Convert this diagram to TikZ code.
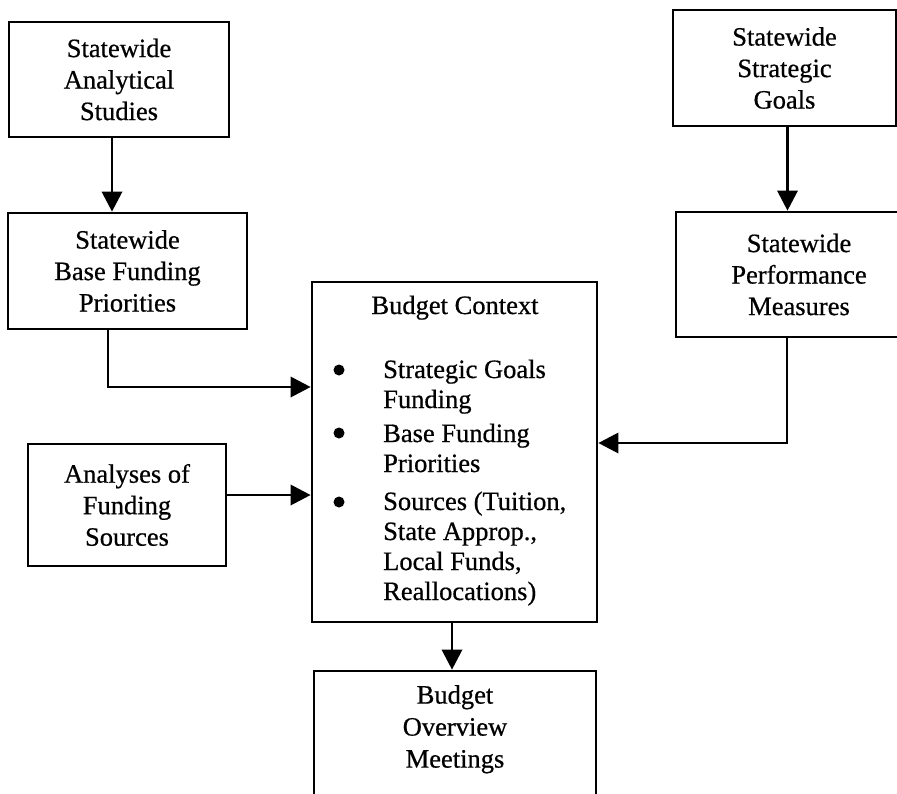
\documentclass[tikz,border=0pt]{standalone}
\usepackage{fontspec}
\setmainfont{Liberation Serif}[FakeBold=0.6]
\usetikzlibrary{arrows.meta,calc}

\newcommand{\lbl}{\fontsize{26.5}{31.5}\selectfont}

\tikzset{
  boxnode/.style={draw, line width=2.9pt, align=center, inner sep=0pt, font=\lbl},
  txt/.style={inner sep=0pt, font=\lbl},
  arr/.style={line width=2.8pt, -{Triangle[length=20pt,width=21pt,line width=0pt]}},
  dot/.style={fill=black},
}

\begin{document}
\begin{tikzpicture}[x=1pt,y=-1pt]
\useasboundingbox (0,0) rectangle (897,793);
\clip (0,0) rectangle (897,793);
\fill[white] (0,0) rectangle (897,793);

% boxes (sizes measured on the border lines)
\node[boxnode, minimum width=220pt, minimum height=115pt] (ana)   at (119,79.5)  {Statewide\\Analytical\\Studies};
\node[boxnode, minimum width=239pt, minimum height=116pt] (base)  at (127.5,271) {Statewide\\Base Funding\\Priorities};
\node[boxnode, minimum width=223pt, minimum height=116pt] (goals) at (784.5,68)  {Statewide\\Strategic\\Goals};
\node[boxnode, minimum width=246pt, minimum height=125pt] (perf)  at (799,274.5) {Statewide\\Performance\\Measures};
\node[boxnode, minimum width=198pt, minimum height=122pt] (src)   at (127,505)   {Analyses of\\Funding\\Sources};
\node[boxnode, minimum width=285pt, minimum height=340pt] (ctx)   at (454.5,452) {};
\node[boxnode, minimum width=282pt, minimum height=149pt] (meet)  at (455,745.5) {};

% text of the budget context box
\node[txt, anchor=base] (ctxhead) at (455,314) {Budget Context};
\fill[dot] (339,370) circle (5.5pt);
\fill[dot] (339,433) circle (5.5pt);
\fill[dot] (339,502) circle (5.5pt);
\node[txt, anchor=base west] (l1) at (383,378) {Strategic Goals};
\node[txt, anchor=base west] (l2) at (383,408) {Funding};
\node[txt, anchor=base west] (l3) at (383,442) {Base Funding};
\node[txt, anchor=base west] (l4) at (383,472) {Priorities};
\node[txt, anchor=base west] (l5) at (383,510) {Sources (Tuition,};
\node[txt, anchor=base west] (l6) at (383,540) {State Approp.,};
\node[txt, anchor=base west] (l7) at (383,570) {Local Funds,};
\node[txt, anchor=base west] (l8) at (383,600) {Reallocations)};

% text of the meetings box
\node[txt, align=center, anchor=north, font=\fontsize{26.5}{32}\selectfont] (meettext) at (455,685) {Budget\\Overview\\Meetings};

% connectors
\draw[arr] ([xshift=-7pt]ana.south) -- ([xshift=-7pt]ana.south |- base.north);
\draw[arr] ([xshift=3pt]goals.south) -- ([xshift=3pt]goals.south |- perf.north);
\draw[arr] ([xshift=-19.5pt]base.south) |- ([yshift=65pt]ctx.west);
\draw[arr] ([yshift=10pt]src.east) -- ([yshift=10pt]src.east -| ctx.west);
\draw[arr] ([xshift=-12pt]perf.south) |- ([yshift=9pt]ctx.east);
\draw[arr] ([xshift=-2.5pt]ctx.south) -- ([xshift=-2.5pt]ctx.south |- meet.north);
\end{tikzpicture}
\end{document}
